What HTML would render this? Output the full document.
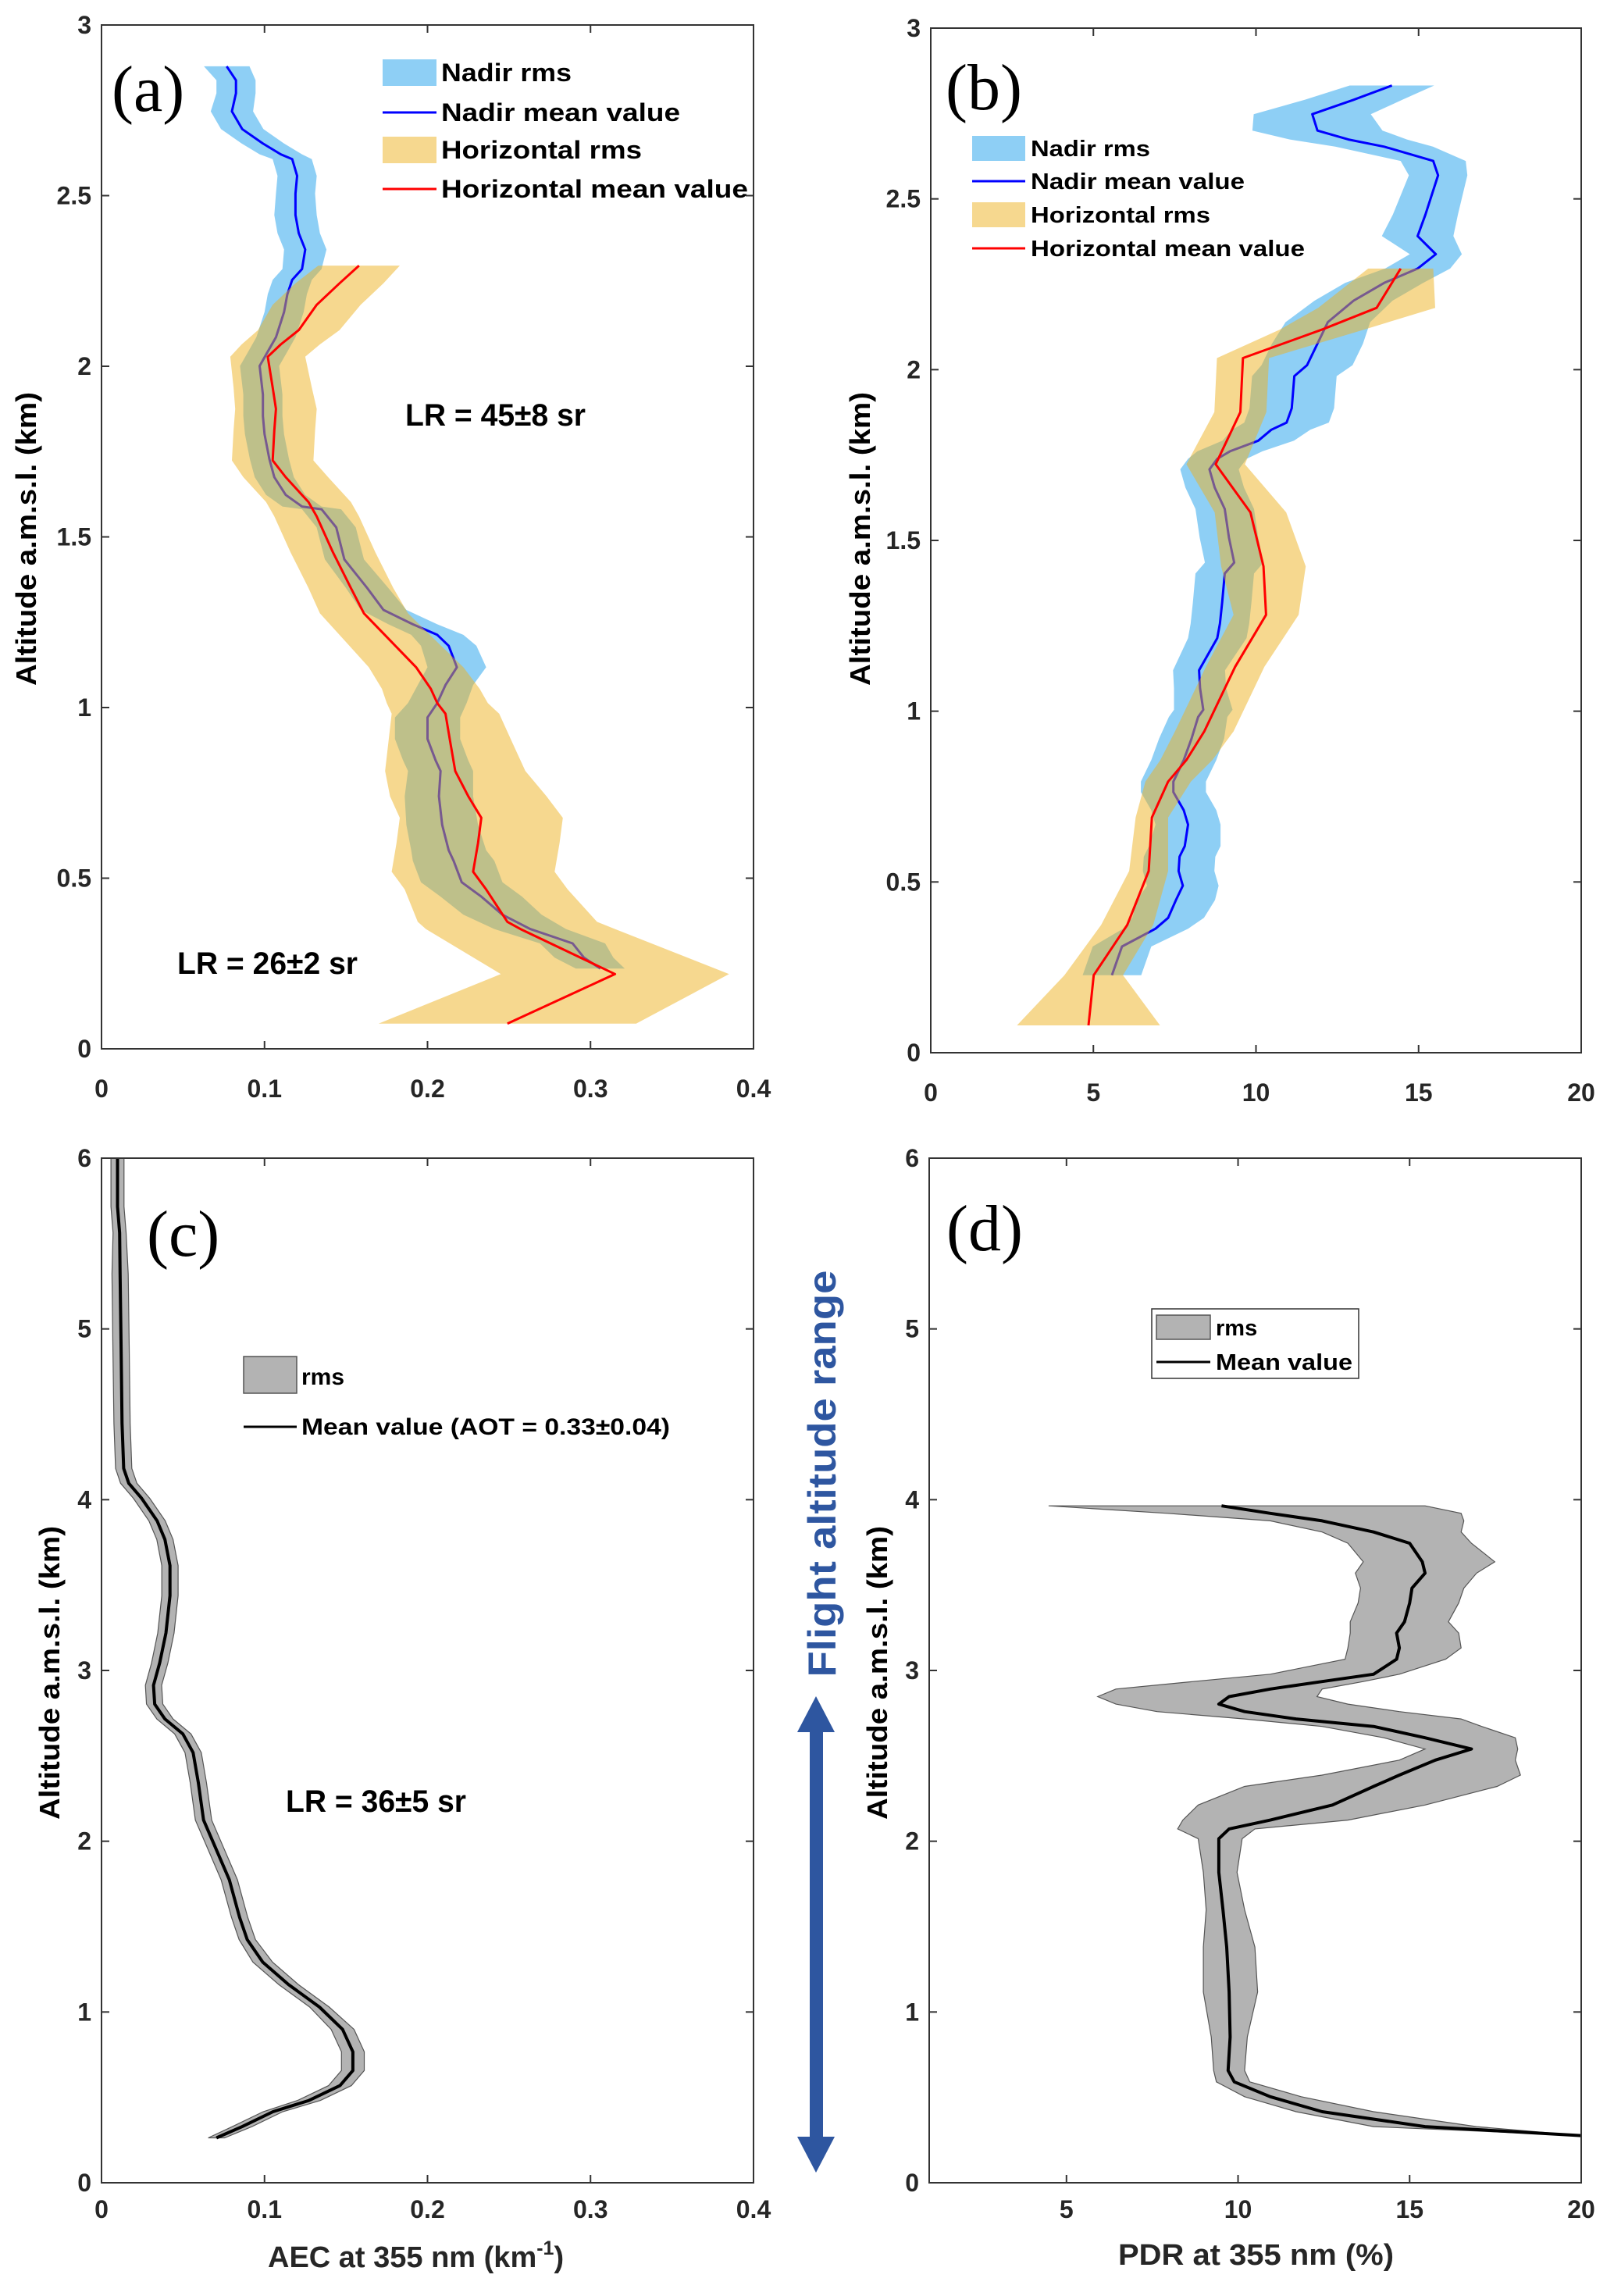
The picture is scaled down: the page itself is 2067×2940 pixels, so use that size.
<!DOCTYPE html>
<html><head><meta charset="utf-8"><style>
html,body{margin:0;padding:0;background:#fff;}
svg{display:block;}
</style></head>
<body>
<svg id="fig" width="2067" height="2940" viewBox="0 0 2067 2940" xmlns="http://www.w3.org/2000/svg" font-family="Liberation Sans, sans-serif">
<rect x="0" y="0" width="2067" height="2940" fill="#fff"/>
<g id="arrow">
  <rect x="1037" y="2214" width="17" height="526" fill="#2E56A0"/>
  <polygon points="1021,2218 1069,2218 1045,2172" fill="#2E56A0"/>
  <polygon points="1021,2736 1069,2736 1045,2782" fill="#2E56A0"/>
</g>
<text x="0" y="0" transform="translate(1070,1887) rotate(-90)" text-anchor="middle" font-size="50" font-weight="bold" fill="#2E56A0" textLength="521" lengthAdjust="spacingAndGlyphs">Flight altitude range</text>
</svg>
<script>
// ---------- Panel (a) data ----------
const aNadirAlt=[2.879,2.838,2.800,2.747,2.695,2.653,2.621,2.607,2.558,2.506,2.443,2.390,2.342,2.285,2.253,2.211,2.159,2.085,2.043,2.001,1.917,1.854,1.801,1.728,1.675,1.623,1.589,1.581,1.528,1.434,1.350,1.286,1.244,1.213,1.181,1.118,1.066,1.013,0.971,0.908,0.845,0.814,0.740,0.656,0.582,0.551,0.488,0.446,0.393,0.351,0.309,0.267,0.235];
const aNadirMean=[0.0768,0.0825,0.0825,0.0800,0.0863,0.0989,0.110,0.117,0.120,0.119,0.119,0.121,0.125,0.123,0.117,0.114,0.112,0.107,0.102,0.097,0.099,0.099,0.100,0.103,0.106,0.113,0.123,0.135,0.144,0.149,0.163,0.173,0.191,0.206,0.213,0.218,0.211,0.206,0.200,0.200,0.205,0.208,0.207,0.209,0.213,0.216,0.221,0.233,0.246,0.263,0.289,0.296,0.306];
const aNadirRms=[0.014,0.012,0.012,0.013,0.013,0.013,0.013,0.012,0.012,0.012,0.013,0.013,0.013,0.012,0.012,0.012,0.012,0.012,0.012,0.012,0.012,0.012,0.012,0.012,0.012,0.012,0.012,0.012,0.012,0.012,0.013,0.014,0.015,0.016,0.017,0.018,0.017,0.018,0.020,0.020,0.020,0.020,0.021,0.022,0.023,0.025,0.025,0.025,0.024,0.022,0.020,0.018,0.015];
const aHorAlt=[2.295,2.243,2.180,2.106,2.064,2.028,1.938,1.875,1.812,1.724,1.675,1.602,1.560,1.455,1.350,1.276,1.192,1.118,1.055,1.013,0.982,0.898,0.814,0.740,0.677,0.603,0.519,0.467,0.372,0.351,0.219,0.074];
const aHorMean=[0.158,0.146,0.132,0.121,0.110,0.102,0.105,0.107,0.106,0.105,0.113,0.127,0.132,0.142,0.153,0.161,0.178,0.193,0.202,0.206,0.211,0.214,0.217,0.225,0.233,0.231,0.228,0.236,0.249,0.257,0.315,0.249];
const aHorRms=[0.025,0.027,0.027,0.025,0.024,0.023,0.024,0.025,0.025,0.025,0.026,0.026,0.026,0.026,0.026,0.027,0.028,0.029,0.030,0.031,0.033,0.038,0.043,0.048,0.050,0.050,0.050,0.050,0.055,0.058,0.070,0.079];
// ---------- Panel (b) data ----------
const bNadirAlt=[2.832,2.790,2.748,2.700,2.674,2.653,2.611,2.569,2.454,2.391,2.338,2.296,2.254,2.202,2.139,2.076,2.013,1.981,1.887,1.845,1.824,1.792,1.761,1.739,1.708,1.655,1.592,1.508,1.435,1.403,1.319,1.256,1.214,1.120,1.067,1.004,0.983,0.920,0.857,0.794,0.763,0.710,0.668,0.605,0.574,0.532,0.489,0.447,0.395,0.363,0.311,0.227];
const bNadirMean=[14.18,13.0,11.73,11.89,12.84,13.94,15.45,15.6,15.21,14.97,15.53,14.97,13.94,13.0,12.21,11.89,11.57,11.18,11.10,10.94,10.47,10.07,9.20,8.81,8.57,8.73,9.04,9.17,9.33,9.04,8.96,8.89,8.81,8.25,8.28,8.38,8.22,8.02,7.78,7.46,7.46,7.78,7.91,7.81,7.65,7.62,7.75,7.54,7.30,6.91,5.88,5.57];
const bNadirRms=[1.3,1.5,1.8,2.0,1.8,1.5,1.0,0.9,1.0,1.1,0.8,1.0,1.2,1.2,1.3,1.4,1.4,1.3,1.3,1.3,1.2,1.1,1.0,0.9,0.9,0.9,0.9,0.9,0.9,0.9,0.9,0.9,0.9,0.8,0.8,0.9,0.9,1.0,1.0,1.0,1.0,1.0,1.0,1.1,1.1,1.1,1.1,1.2,1.1,1.0,0.9,0.9];
const bHorAlt=[2.296,2.181,2.118,2.034,1.876,1.723,1.582,1.424,1.282,1.130,0.941,0.857,0.794,0.689,0.532,0.374,0.227,0.080];
const bHorMean=[14.45,13.71,12.05,9.60,9.52,8.76,9.83,10.23,10.31,9.36,8.41,7.86,7.30,6.80,6.70,6.04,5.01,4.85];
const bHorRms=[1.0,1.8,1.3,0.8,0.8,0.9,1.1,1.3,1.0,0.9,0.9,0.8,0.7,0.5,0.6,0.8,0.9,2.2];
// ---------- Panel (c) data ----------
const cAlt=[6.0,5.716,5.563,5.322,4.884,4.446,4.183,4.096,4.008,3.876,3.767,3.614,3.438,3.219,3.044,2.913,2.803,2.716,2.628,2.519,2.343,2.124,1.949,1.774,1.555,1.424,1.292,1.161,1.029,0.898,0.767,0.657,0.569,0.482,0.416,0.329,0.263];
const cMean=[0.0098,0.0098,0.0111,0.0114,0.012,0.0126,0.0136,0.0167,0.0246,0.0341,0.0389,0.042,0.042,0.0395,0.0357,0.0319,0.0326,0.0389,0.0499,0.0562,0.0594,0.0626,0.0705,0.0784,0.0847,0.0894,0.0989,0.1147,0.1337,0.1479,0.1542,0.1542,0.1463,0.1273,0.1052,0.0863,0.0705];
const cRms=[0.004,0.004,0.004,0.005,0.005,0.005,0.005,0.005,0.005,0.005,0.005,0.005,0.005,0.005,0.005,0.005,0.005,0.005,0.005,0.005,0.005,0.005,0.005,0.005,0.005,0.005,0.006,0.006,0.006,0.007,0.007,0.007,0.007,0.007,0.006,0.006,0.005];
// ---------- Panel (d) data ----------
const dAlt=[3.964,3.920,3.876,3.811,3.745,3.636,3.570,3.482,3.395,3.285,3.219,3.132,3.066,2.978,2.935,2.891,2.847,2.803,2.759,2.716,2.672,2.606,2.540,2.475,2.387,2.321,2.212,2.124,2.072,2.015,1.818,1.599,1.380,1.117,0.854,0.657,0.591,0.504,0.416,0.329,0.276];
const dMean=[9.52,10.94,12.45,13.95,15.00,15.37,15.45,15.07,15.00,14.85,14.62,14.70,14.62,13.95,12.45,10.94,9.74,9.44,10.19,11.69,13.95,15.45,16.80,15.75,14.70,13.95,12.75,10.94,9.74,9.44,9.44,9.56,9.67,9.74,9.77,9.71,9.89,10.94,12.45,15.45,20.0];
const dLow=[4.48,7.94,10.94,12.45,13.20,13.65,13.42,13.57,13.50,13.27,13.27,13.20,13.12,10.94,8.69,6.44,5.91,6.44,7.64,10.19,12.45,14.25,15.45,14.70,12.45,10.19,8.84,8.39,8.24,8.84,8.99,9.07,8.99,8.99,9.22,9.29,9.37,10.19,11.69,13.95,20.0];
const dHigh=[15.45,16.50,16.58,16.50,16.80,17.48,16.95,16.58,16.43,16.13,16.43,16.50,16.05,14.70,13.65,12.45,12.30,13.20,14.70,16.50,17.10,18.08,18.15,18.08,18.23,17.55,15.45,13.20,10.49,10.12,9.97,10.19,10.49,10.57,10.27,10.19,10.34,11.84,13.95,16.95,20.0];
// tick arrays
const abAltTicks=[0,0.5,1,1.5,2,2.5,3];
const abAltLabels=["0","0.5","1","1.5","2","2.5","3"];
const cdAltTicks=[0,1,2,3,4,5,6];
const aecTicks=[0,0.1,0.2,0.3,0.4];
const aecLabels=["0","0.1","0.2","0.3","0.4"];
const bTicks=[0,5,10,15,20];
const bLabels=["0","5","10","15","20"];
const dTicks=[5,10,15,20];
const dLabels=["5","10","15","20"];

const NS="http://www.w3.org/2000/svg";
const svg=document.getElementById('fig');
function mk(tag,attrs,parent){const e=document.createElementNS(NS,tag);for(const k in attrs)e.setAttribute(k,attrs[k]);(parent||svg).appendChild(e);return e;}
function scale(d0,d1,p0,p1){return v=>p0+(v-d0)/(d1-d0)*(p1-p0);}

function axes(name,px0,px1,py0,py1,sx,sy,xt,xl,yt,yl,xLabY){
  const g=mk('g',{});
  
  
  const box=mk('rect',{x:px0,y:py0,width:px1-px0,height:py1-py0,fill:'none',stroke:'#333',"stroke-width":2},g);
  
  
  xt.forEach((v,i)=>{
    const x=sx(v);
    mk('line',{x1:x,x2:x,y1:py1,y2:py1-10,stroke:'#333',"stroke-width":2},g);
    mk('line',{x1:x,x2:x,y1:py0,y2:py0+10,stroke:'#333',"stroke-width":2},g);
    const t=mk('text',{x:x,y:xLabY,"text-anchor":"middle","font-size":32,"font-weight":"bold",fill:'#262626'},g);
    
    
    t.textContent=xl[i];
  });
  yt.forEach((v,i)=>{
    const y=sy(v);
    mk('line',{x1:px0,x2:px0+10,y1:y,y2:y,stroke:'#333',"stroke-width":2},g);
    mk('line',{x1:px1,x2:px1-10,y1:y,y2:y,stroke:'#333',"stroke-width":2},g);
    const t=mk('text',{x:px0-13,y:y+11,"text-anchor":"end","font-size":32,"font-weight":"bold",fill:'#262626'},g);
    
    
    t.textContent=yl[i];
  });
}
function band(name,alts,lo,hi,sx,sy,fill,extra){
  let pts=[];
  for(let i=0;i<alts.length;i++)pts.push(sx(lo[i]).toFixed(1)+','+sy(alts[i]).toFixed(1));
  for(let i=alts.length-1;i>=0;i--)pts.push(sx(hi[i]).toFixed(1)+','+sy(alts[i]).toFixed(1));
  const p=mk('polygon',Object.assign({points:pts.join(' '),fill:fill},extra||{}));
  
  
  return p;
}
function line(name,alts,vals,sx,sy,color,w){
  const pts=alts.map((a,i)=>sx(vals[i]).toFixed(1)+','+sy(a).toFixed(1)).join(' ');
  const p=mk('polyline',{points:pts,fill:'none',stroke:color,"stroke-width":w,"stroke-linejoin":"round"});
  
  
  return p;
}
function txt(name,x,y,s,attrs){
  const t=mk('text',Object.assign({x:x,y:y},attrs));
  
  
  t.textContent=s;return t;
}
function ytitle(name,x,y){
  const t=mk('text',{x:0,y:0,transform:'translate('+x+','+y+') rotate(-90)',"text-anchor":"middle","font-size":36,"font-weight":"bold",fill:'#000',textLength:376,lengthAdjust:'spacingAndGlyphs'});
  
  
  t.textContent='Altitude a.m.s.l. (km)';
}
const SERIF='font-family:"Liberation Serif",serif';
const BLUE='rgb(29,159,235)', ORANGE='rgb(237,177,32)';

// ===== Panel (a) =====
{
 const sx=scale(0,0.4,130,965), sy=scale(0,3,1343,32);
 band('a-nadir-rms-band',aNadirAlt,aNadirMean.map((v,i)=>v-aNadirRms[i]),aNadirMean.map((v,i)=>v+aNadirRms[i]),sx,sy,BLUE,{"fill-opacity":0.5});
 line('a-nadir-mean-line',aNadirAlt,aNadirMean,sx,sy,'#0000FF',3);
 band('a-horizontal-rms-band',aHorAlt,aHorMean.map((v,i)=>v-aHorRms[i]),aHorMean.map((v,i)=>v+aHorRms[i]),sx,sy,ORANGE,{"fill-opacity":0.5});
 line('a-horizontal-mean-line',aHorAlt,aHorMean,sx,sy,'#FF0000',3);
 axes('a',130,965,32,1343,sx,sy,aecTicks,aecLabels,abAltTicks,abAltLabels,1405);
 ytitle('a-y-axis-title',46,690);
 txt('a-panel-label',143,142,'(a)',{style:SERIF,"font-size":84});
 const lg=[[93,'patch',BLUE],[144,'line','#0000FF'],[192,'patch',ORANGE],[242,'line','#FF0000']];
 lg.forEach(r=>{
  if(r[1]==='patch'){const p=mk('rect',{x:490,y:r[0]-17,width:69,height:34,fill:r[2],"fill-opacity":0.5});}
  else{const p=mk('line',{x1:490,x2:559,y1:r[0],y2:r[0],stroke:r[2],"stroke-width":3});}
 });
 txt('a-legend-nadir-rms',565,104,'Nadir rms',{"font-size":32,"font-weight":"bold",textLength:167,lengthAdjust:'spacingAndGlyphs'});
 txt('a-legend-nadir-mean',565,155,'Nadir mean value',{"font-size":32,"font-weight":"bold",textLength:306,lengthAdjust:'spacingAndGlyphs'});
 txt('a-legend-horizontal-rms',565,203,'Horizontal rms',{"font-size":32,"font-weight":"bold",textLength:257,lengthAdjust:'spacingAndGlyphs'});
 txt('a-legend-horizontal-mean',565,253,'Horizontal mean value',{"font-size":32,"font-weight":"bold",textLength:393,lengthAdjust:'spacingAndGlyphs'});
 txt('a-lr-upper',519,545,'LR = 45±8 sr',{"font-size":40,"font-weight":"bold",textLength:231,lengthAdjust:'spacingAndGlyphs'});
 txt('a-lr-lower',227,1247,'LR = 26±2 sr',{"font-size":40,"font-weight":"bold",textLength:231,lengthAdjust:'spacingAndGlyphs'});
}
// ===== Panel (b) =====
{
 const sx=scale(0,20,1192,2025), sy=scale(0,3,1348,36);
 band('b-nadir-rms-band',bNadirAlt,bNadirMean.map((v,i)=>v-bNadirRms[i]),bNadirMean.map((v,i)=>v+bNadirRms[i]),sx,sy,BLUE,{"fill-opacity":0.5});
 line('b-nadir-mean-line',bNadirAlt,bNadirMean,sx,sy,'#0000FF',3);
 band('b-horizontal-rms-band',bHorAlt,bHorMean.map((v,i)=>v-bHorRms[i]),bHorMean.map((v,i)=>v+bHorRms[i]),sx,sy,ORANGE,{"fill-opacity":0.5});
 line('b-horizontal-mean-line',bHorAlt,bHorMean,sx,sy,'#FF0000',3);
 axes('b',1192,2025,36,1348,sx,sy,bTicks,bLabels,abAltTicks,abAltLabels,1410);
 ytitle('b-y-axis-title',1114,690);
 txt('b-panel-label',1211,140,'(b)',{style:SERIF,"font-size":84});
 const lg=[[190,'patch',BLUE],[232,'line','#0000FF'],[275,'patch',ORANGE],[318,'line','#FF0000']];
 lg.forEach(r=>{
  if(r[1]==='patch'){const p=mk('rect',{x:1245,y:r[0]-16,width:68,height:32,fill:r[2],"fill-opacity":0.5});}
  else{const p=mk('line',{x1:1245,x2:1313,y1:r[0],y2:r[0],stroke:r[2],"stroke-width":3});}
 });
 txt('b-legend-nadir-rms',1320,200,'Nadir rms',{"font-size":29,"font-weight":"bold",textLength:153,lengthAdjust:'spacingAndGlyphs'});
 txt('b-legend-nadir-mean',1320,242,'Nadir mean value',{"font-size":29,"font-weight":"bold",textLength:274,lengthAdjust:'spacingAndGlyphs'});
 txt('b-legend-horizontal-rms',1320,285,'Horizontal rms',{"font-size":29,"font-weight":"bold",textLength:230,lengthAdjust:'spacingAndGlyphs'});
 txt('b-legend-horizontal-mean',1320,328,'Horizontal mean value',{"font-size":29,"font-weight":"bold",textLength:351,lengthAdjust:'spacingAndGlyphs'});
}
// ===== Panel (c) =====
{
 const sx=scale(0,0.4,130,965), sy=scale(0,6,2795,1483);
 band('c-rms-band',cAlt,cMean.map((v,i)=>v-cRms[i]),cMean.map((v,i)=>v+cRms[i]),sx,sy,'#B3B3B3',{stroke:'#555',"stroke-width":1.2});
 line('c-mean-line',cAlt,cMean,sx,sy,'#000',4);
 axes('c',130,965,1483,2795,sx,sy,aecTicks,aecLabels,cdAltTicks,cdAltTicks.map(String),2840);
 ytitle('c-y-axis-title',76,2142);
 const xt=txt('c-x-axis-title',343,2903,'AEC at 355 nm (km',{"font-size":38,"font-weight":"bold",fill:'#262626'});
 const s1=mk('tspan',{"font-size":25,dy:-16},xt);s1.textContent='-1';
 const s2=mk('tspan',{dy:16},xt);s2.textContent=')';
 txt('c-panel-label',188,1608,'(c)',{style:SERIF,"font-size":84});
 const p=mk('rect',{x:312,y:1737,width:68,height:47,fill:'#B3B3B3',stroke:'#555',"stroke-width":1.5});
 
 const l=mk('line',{x1:312,x2:380,y1:1827,y2:1827,stroke:'#000',"stroke-width":3});
 
 txt('c-legend-rms',386,1773,'rms',{"font-size":30,"font-weight":"bold"});
 txt('c-legend-mean',386,1837,'Mean value (AOT = 0.33±0.04)',{"font-size":30,"font-weight":"bold",textLength:472,lengthAdjust:'spacingAndGlyphs'});
 txt('c-lr',366,2320,'LR = 36±5 sr',{"font-size":40,"font-weight":"bold",textLength:231,lengthAdjust:'spacingAndGlyphs'});
}
// ===== Panel (d) =====
{
 const sx=scale(1,20,1190,2025), sy=scale(0,6,2795,1483);
 band('d-rms-band',dAlt,dLow,dHigh,sx,sy,'#B3B3B3',{stroke:'#555',"stroke-width":1.2});
 line('d-mean-line',dAlt,dMean,sx,sy,'#000',4);
 axes('d',1190,2025,1483,2795,sx,sy,dTicks,dLabels,cdAltTicks,cdAltTicks.map(String),2840);
 ytitle('d-y-axis-title',1136,2142);
 txt('d-x-axis-title',1432,2900,'PDR at 355 nm (%)',{"font-size":38,"font-weight":"bold",fill:'#262626',textLength:353,lengthAdjust:'spacingAndGlyphs'});
 txt('d-panel-label',1212,1601,'(d)',{style:SERIF,"font-size":84});
 const bx=mk('rect',{x:1475,y:1676,width:265,height:89,fill:'#fff',stroke:'#333',"stroke-width":1.5});
 
 const p=mk('rect',{x:1481,y:1684,width:69,height:31,fill:'#B3B3B3',stroke:'#555',"stroke-width":1.5});
 
 const l=mk('line',{x1:1481,x2:1550,y1:1744,y2:1744,stroke:'#000',"stroke-width":3});
 
 txt('d-legend-rms',1557,1710,'rms',{"font-size":29,"font-weight":"bold"});
 txt('d-legend-mean',1557,1754,'Mean value',{"font-size":29,"font-weight":"bold",textLength:175,lengthAdjust:'spacingAndGlyphs'});
}
</script>
</body></html>
